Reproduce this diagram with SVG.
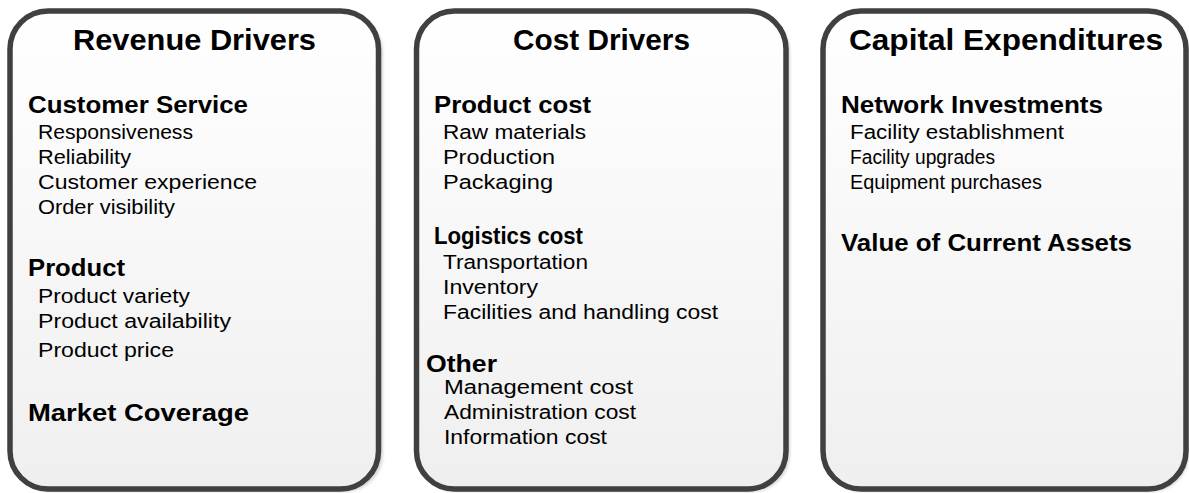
<svg xmlns="http://www.w3.org/2000/svg" width="1189" height="493" viewBox="0 0 1189 493">
<defs>
<linearGradient id="g" x1="0" y1="0" x2="0" y2="1">
<stop offset="0" stop-color="#ffffff"/>
<stop offset="1" stop-color="#efefef"/>
</linearGradient>
<filter id="sh" x="-5%" y="-5%" width="110%" height="110%"><feGaussianBlur stdDeviation="1.5"/></filter>
</defs>
<style>
.box{fill:url(#g);stroke:#404040;stroke-width:5.5}
.shadow{fill:#d6d6d6;filter:url(#sh)}
text{font-family:"Liberation Sans",Arial,sans-serif;fill:#000}
.t{font-size:30px;font-weight:bold}
.h{font-size:23px;font-weight:bold}
.i{font-size:20px}
</style>
<rect width="1189" height="493" fill="#ffffff"/>
<g id="revenue">
<rect class="shadow" x="14" y="14" width="369" height="478" rx="38"/>
<rect class="box" x="10" y="11" width="368.5" height="478" rx="38"/>
<text class="t" x="73" y="50" textLength="243" lengthAdjust="spacingAndGlyphs">Revenue Drivers</text>
<text class="h" x="28" y="113" textLength="220" lengthAdjust="spacingAndGlyphs">Customer Service</text>
<text class="i" x="38" y="139" textLength="155" lengthAdjust="spacingAndGlyphs">Responsiveness</text>
<text class="i" x="38" y="164" textLength="93" lengthAdjust="spacingAndGlyphs">Reliability</text>
<text class="i" x="38" y="189" textLength="219" lengthAdjust="spacingAndGlyphs">Customer experience</text>
<text class="i" x="38" y="214" textLength="137" lengthAdjust="spacingAndGlyphs">Order visibility</text>
<text class="h" x="28" y="276" textLength="97" lengthAdjust="spacingAndGlyphs">Product</text>
<text class="i" x="38" y="303" textLength="152" lengthAdjust="spacingAndGlyphs">Product variety</text>
<text class="i" x="38" y="328" textLength="193" lengthAdjust="spacingAndGlyphs">Product availability</text>
<text class="i" x="38" y="357" textLength="136" lengthAdjust="spacingAndGlyphs">Product price</text>
<text class="h" x="28" y="421" textLength="221" lengthAdjust="spacingAndGlyphs">Market Coverage</text>
</g>
<g id="cost">
<rect class="shadow" x="420" y="14" width="370" height="478" rx="38"/>
<rect class="box" x="416.5" y="11" width="369.5" height="478" rx="38"/>
<text class="t" x="513" y="50" textLength="177" lengthAdjust="spacingAndGlyphs">Cost Drivers</text>
<text class="h" x="434" y="113" textLength="157" lengthAdjust="spacingAndGlyphs">Product cost</text>
<text class="i" x="443" y="139" textLength="143" lengthAdjust="spacingAndGlyphs">Raw materials</text>
<text class="i" x="443" y="164" textLength="112" lengthAdjust="spacingAndGlyphs">Production</text>
<text class="i" x="443" y="189" textLength="110" lengthAdjust="spacingAndGlyphs">Packaging</text>
<text class="h" x="434" y="244" textLength="149" lengthAdjust="spacingAndGlyphs">Logistics cost</text>
<text class="i" x="443" y="269" textLength="145" lengthAdjust="spacingAndGlyphs">Transportation</text>
<text class="i" x="443" y="294" textLength="95" lengthAdjust="spacingAndGlyphs">Inventory</text>
<text class="i" x="443" y="319" textLength="275" lengthAdjust="spacingAndGlyphs">Facilities and handling cost</text>
<text class="h" x="426" y="372" textLength="71" lengthAdjust="spacingAndGlyphs">Other</text>
<text class="i" x="444" y="394" textLength="189" lengthAdjust="spacingAndGlyphs">Management cost</text>
<text class="i" x="444" y="419" textLength="192" lengthAdjust="spacingAndGlyphs">Administration cost</text>
<text class="i" x="444" y="444" textLength="163" lengthAdjust="spacingAndGlyphs">Information cost</text>
</g>
<g id="capex">
<rect class="shadow" x="826" y="14" width="363" height="478" rx="38"/>
<rect class="box" x="823" y="11" width="363" height="478" rx="38"/>
<text class="t" x="849" y="50" textLength="314" lengthAdjust="spacingAndGlyphs">Capital Expenditures</text>
<text class="h" x="841" y="113" textLength="262" lengthAdjust="spacingAndGlyphs">Network Investments</text>
<text class="i" x="850" y="139" textLength="214" lengthAdjust="spacingAndGlyphs">Facility establishment</text>
<text class="i" x="850" y="164" textLength="145" lengthAdjust="spacingAndGlyphs">Facility upgrades</text>
<text class="i" x="850" y="189" textLength="192" lengthAdjust="spacingAndGlyphs">Equipment purchases</text>
<text class="h" x="841" y="251" textLength="291" lengthAdjust="spacingAndGlyphs">Value of Current Assets</text>
</g>
<g id="connectors"/>
</svg>
